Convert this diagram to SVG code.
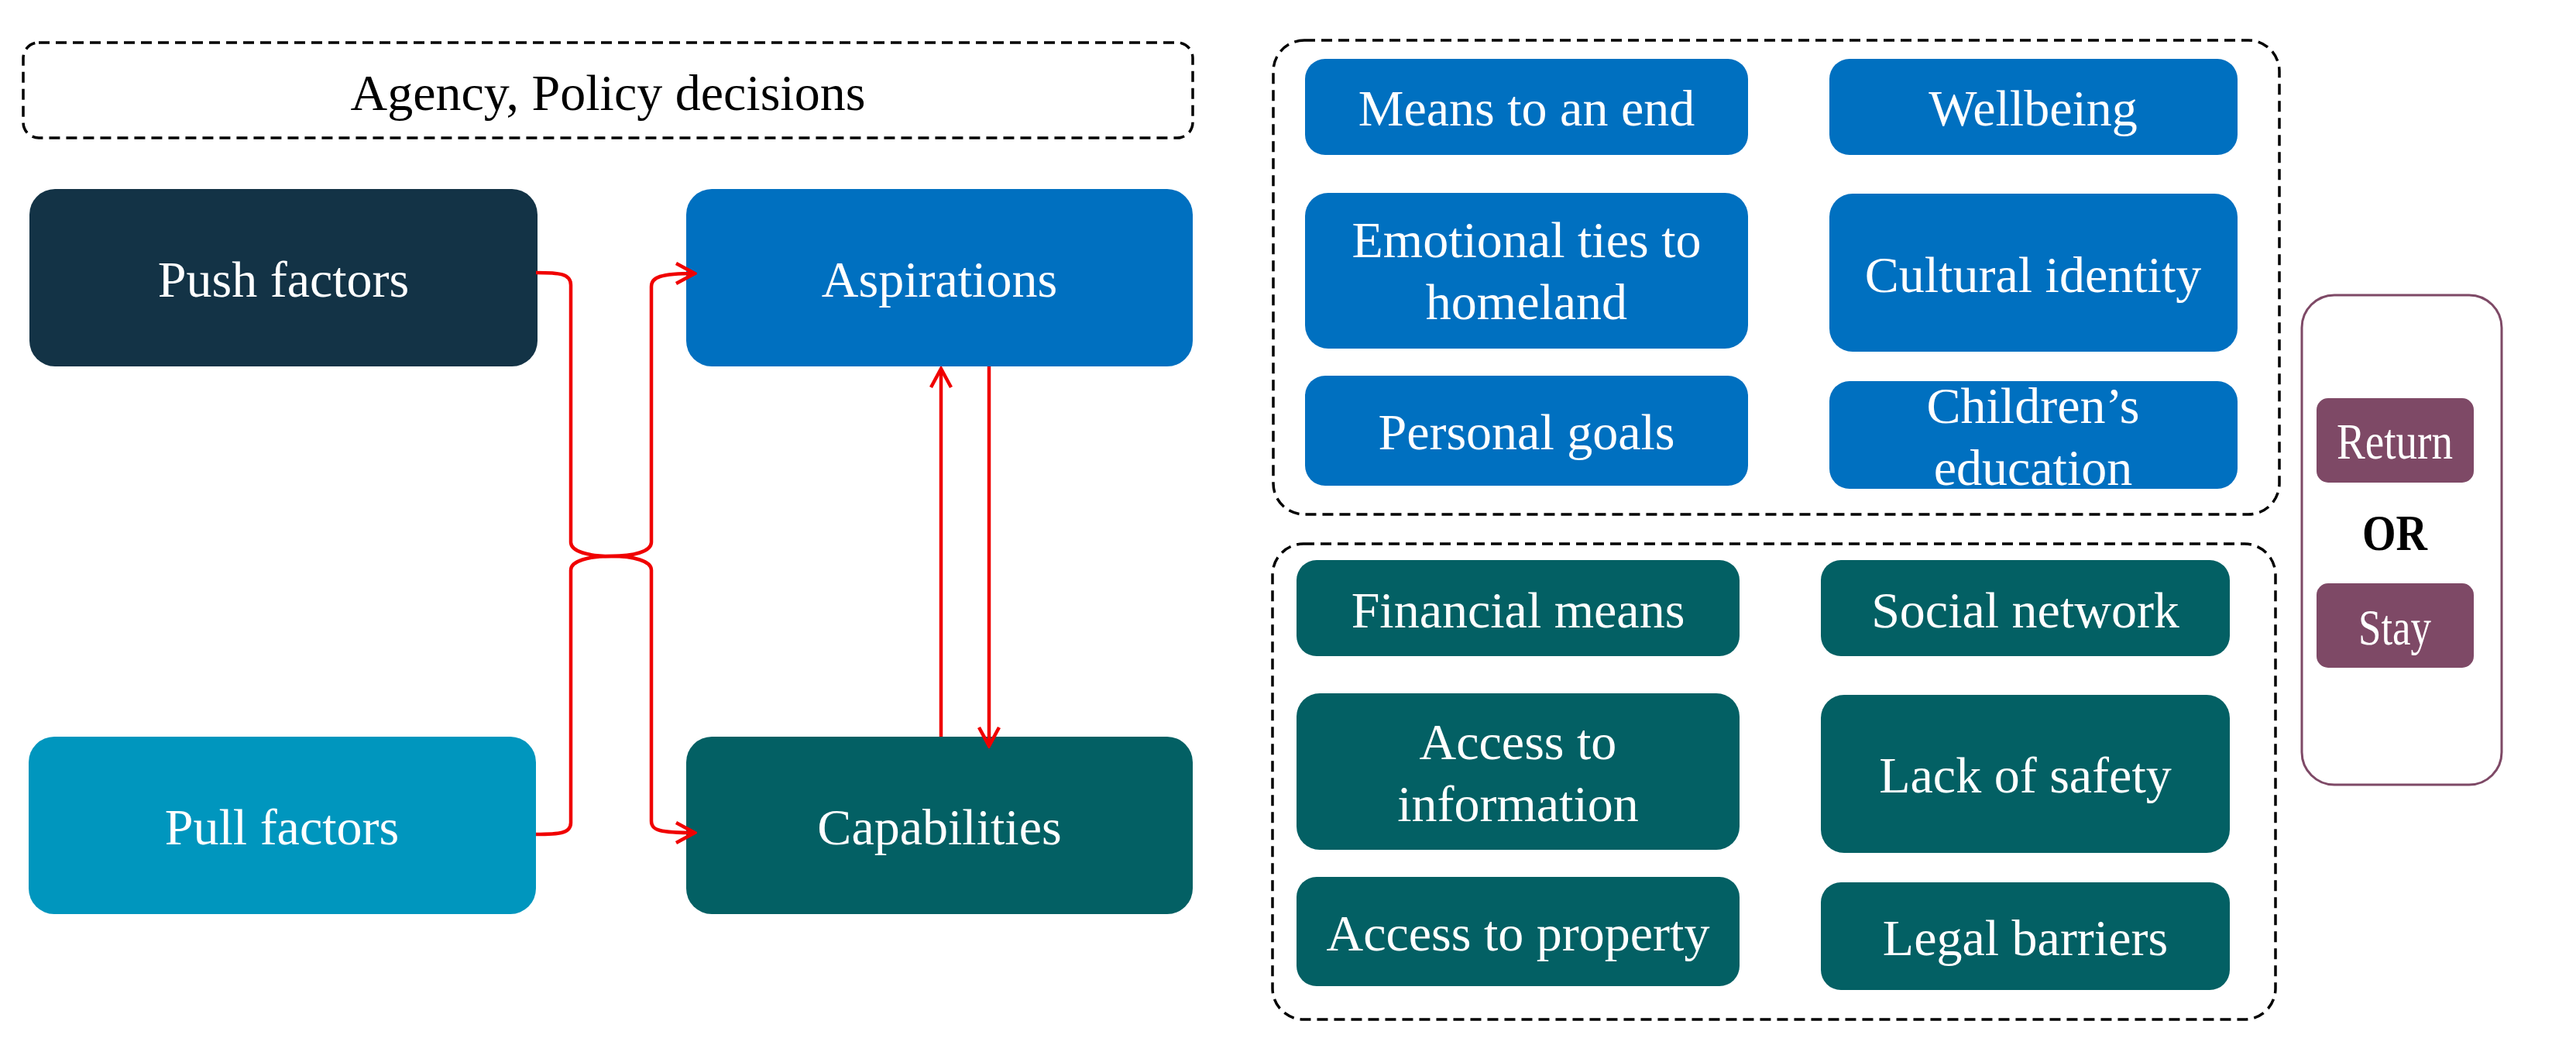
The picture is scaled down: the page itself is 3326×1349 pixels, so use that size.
<svg xmlns="http://www.w3.org/2000/svg" width="3326" height="1349" viewBox="0 0 3326 1349">
<style>
text{font-family:"Liberation Serif","Times New Roman",serif;font-size:66px;text-anchor:middle}
.w{fill:#ffffff}
.k{fill:#000000}
.dash{fill:none;stroke:#000;stroke-width:3.5;stroke-dasharray:14 8}
.navy{fill:#133346}
.blue{fill:#0070C0}
.cyan{fill:#0096BE}
.teal{fill:#036064}
.plum{fill:#7E4966}
.con{fill:none;stroke:#F00000;stroke-width:4.5;stroke-linejoin:round}
</style>
<defs>
<marker id="arr" viewBox="0 0 30 30" refX="27" refY="15" markerWidth="30" markerHeight="30" markerUnits="userSpaceOnUse" orient="auto">
<path d="M3,2 L27,15 L3,28" fill="none" stroke="#F00000" stroke-width="4.5" stroke-linejoin="miter"/>
</marker>
</defs>
<rect width="3326" height="1349" fill="#ffffff"/>

<g id="agency">
<rect class="dash" x="30" y="55" width="1510" height="123" rx="20"/>
<text class="k" x="785" y="142">Agency, Policy decisions</text>
</g>

<g id="push-factors">
<rect class="navy" x="38" y="244" width="656" height="229" rx="33"/>
<text class="w" x="366" y="383">Push factors</text>
</g>
<g id="aspirations">
<rect class="blue" x="886" y="244" width="654" height="229" rx="33"/>
<text class="w" x="1213" y="383">Aspirations</text>
</g>
<g id="pull-factors">
<rect class="cyan" x="37" y="951" width="655" height="229" rx="33"/>
<text class="w" x="364" y="1090">Pull factors</text>
</g>
<g id="capabilities">
<rect class="teal" x="886" y="951" width="654" height="229" rx="33"/>
<text class="w" x="1213" y="1090">Capabilities</text>
</g>

<g id="aspirations-group">
<rect class="dash" x="1644" y="52" width="1299" height="612" rx="40"/>
<g id="means-to-an-end"><rect class="blue" x="1685" y="76" width="572" height="124" rx="26"/><text class="w" x="1971" y="162">Means to an end</text></g>
<g id="wellbeing"><rect class="blue" x="2362" y="76" width="527" height="124" rx="26"/><text class="w" x="2625" y="162">Wellbeing</text></g>
<g id="emotional-ties"><rect class="blue" x="1685" y="249" width="572" height="201" rx="30"/><text class="w" x="1971" y="332">Emotional ties to</text><text class="w" x="1971" y="412">homeland</text></g>
<g id="cultural-identity"><rect class="blue" x="2362" y="250" width="527" height="204" rx="30"/><text class="w" x="2625" y="377">Cultural identity</text></g>
<g id="personal-goals"><rect class="blue" x="1685" y="485" width="572" height="142" rx="26"/><text class="w" x="1971" y="580">Personal goals</text></g>
<g id="childrens-education"><rect class="blue" x="2362" y="492" width="527" height="139" rx="26"/><text class="w" x="2625" y="546">Children’s</text><text class="w" x="2625" y="626">education</text></g>
</g>

<g id="capabilities-group">
<rect class="dash" x="1643" y="702" width="1295" height="614" rx="40"/>
<g id="financial-means"><rect class="teal" x="1674" y="723" width="572" height="124" rx="26"/><text class="w" x="1960" y="810">Financial means</text></g>
<g id="social-network"><rect class="teal" x="2351" y="723" width="528" height="124" rx="26"/><text class="w" x="2615" y="810">Social network</text></g>
<g id="access-to-information"><rect class="teal" x="1674" y="895" width="572" height="202" rx="30"/><text class="w" x="1960" y="980">Access to</text><text class="w" x="1960" y="1060">information</text></g>
<g id="lack-of-safety"><rect class="teal" x="2351" y="897" width="528" height="204" rx="30"/><text class="w" x="2615" y="1023">Lack of safety</text></g>
<g id="access-to-property"><rect class="teal" x="1674" y="1132" width="572" height="141" rx="26"/><text class="w" x="1960" y="1227">Access to property</text></g>
<g id="legal-barriers"><rect class="teal" x="2351" y="1139" width="528" height="139" rx="26"/><text class="w" x="2615" y="1233">Legal barriers</text></g>
</g>

<g id="outcome">
<rect x="2972" y="381" width="258" height="632" rx="42" fill="#ffffff" stroke="#7E4966" stroke-width="3"/>
<g id="return"><rect class="plum" x="2991" y="514" width="203" height="109" rx="15"/><text class="w" x="3092" y="592" font-size="68" textLength="150" lengthAdjust="spacingAndGlyphs">Return</text></g>
<text class="k" x="3092" y="710" font-weight="bold" font-size="70" textLength="84" lengthAdjust="spacingAndGlyphs">OR</text>
<g id="stay"><rect class="plum" x="2991" y="753" width="203" height="109" rx="15"/><text class="w" x="3092" y="832" font-size="68" textLength="94" lengthAdjust="spacingAndGlyphs">Stay</text></g>
</g>

<g id="connectors">
<path class="con" d="M692,352 C722,352 737,353 737,368 V700 C737,712 760,718 789,718"/>
<path class="con" d="M692,1077 C722,1077 737,1076 737,1062 V736 C737,724 760,718 789,718"/>
<path class="con" d="M789,718 C818,718 841,712 841,700 V370 C841,358 852,353 897,353" marker-end="url(#arr)"/>
<path class="con" d="M789,718 C818,718 841,724 841,736 V1060 C841,1072 852,1075 897,1075" marker-end="url(#arr)"/>
<path class="con" d="M1215,951 V476" marker-end="url(#arr)"/>
<path class="con" d="M1277,473 V963" marker-end="url(#arr)"/>
</g>
</svg>
